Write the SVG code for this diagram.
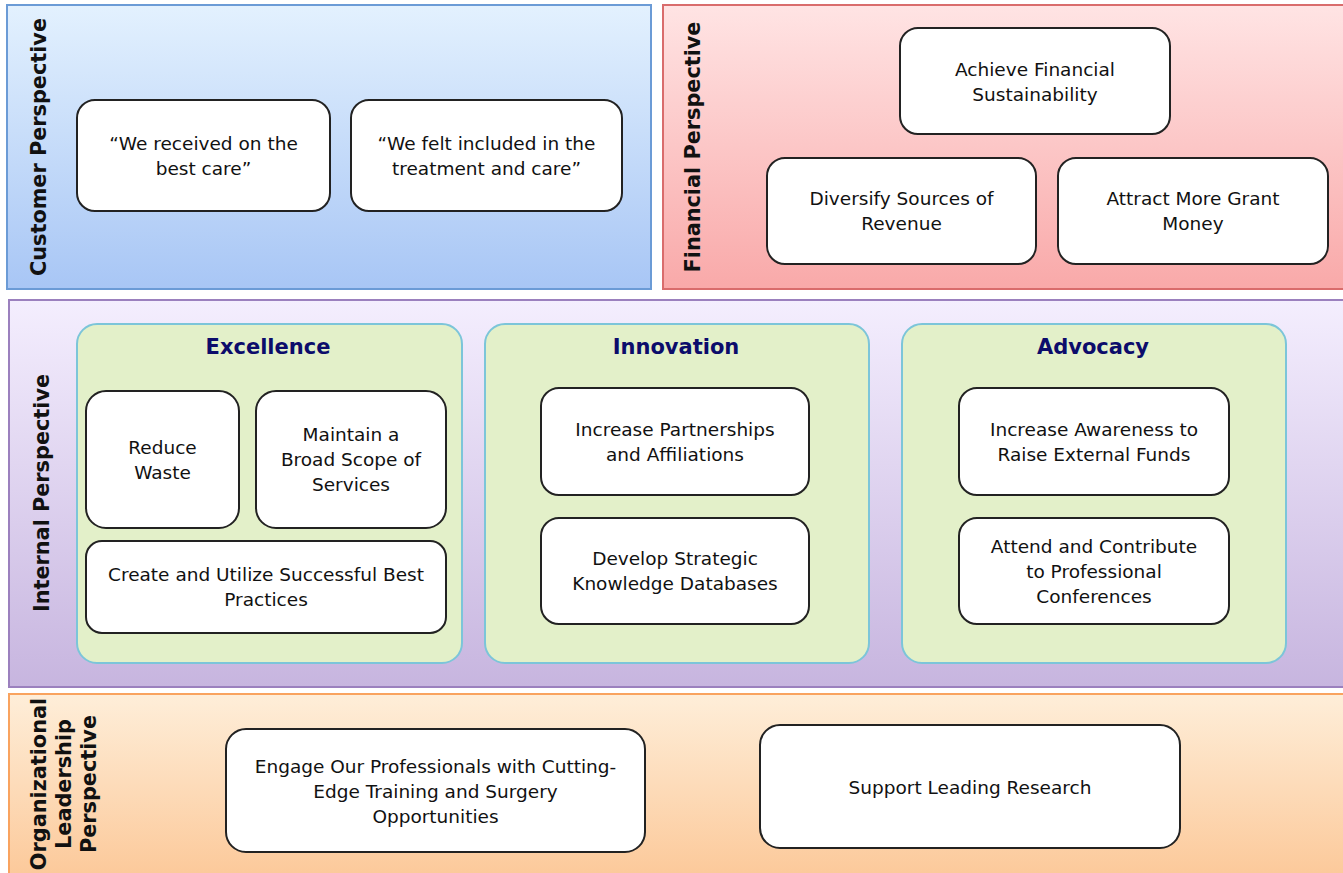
<svg xmlns="http://www.w3.org/2000/svg" width="1343" height="873" viewBox="0 0 1343 873">
<defs>
<linearGradient id="gCust" x1="0" y1="0" x2="0" y2="1"><stop offset="0" stop-color="#e3f1fe"/><stop offset="1" stop-color="#a8c6f5"/></linearGradient>
<linearGradient id="gFin" x1="0" y1="0" x2="0" y2="1"><stop offset="0" stop-color="#ffe4e4"/><stop offset="1" stop-color="#f9a9a9"/></linearGradient>
<linearGradient id="gInt" x1="0" y1="0" x2="0" y2="1"><stop offset="0" stop-color="#f4eefe"/><stop offset="1" stop-color="#c7b5df"/></linearGradient>
<linearGradient id="gOrg" x1="0" y1="0" x2="0" y2="1"><stop offset="0" stop-color="#feeed9"/><stop offset="1" stop-color="#fcc99a"/></linearGradient>
<style>
.node{fill:#ffffff;stroke:#222222;stroke-width:2}
.cont{fill:#e3f0c9;stroke:#7cc5d9;stroke-width:2}
.txt{font-family:"DejaVu Sans","Liberation Sans",sans-serif;font-size:18.5px;fill:#111111;text-anchor:middle}
.title{font-family:"DejaVu Sans","Liberation Sans",sans-serif;font-weight:bold;font-size:21px;fill:#0c0c6b;text-anchor:middle}
.vlab{font-family:"DejaVu Sans","Liberation Sans",sans-serif;font-weight:bold;font-size:20.8px;fill:#111111;text-anchor:middle}
</style>
</defs>
<g id="panels">
<rect id="customer-panel" x="7" y="5" width="644" height="284" fill="url(#gCust)" stroke="#6b9bd6" stroke-width="2"/>
<rect id="financial-panel" x="663" y="5" width="682" height="284" fill="url(#gFin)" stroke="#d96c6c" stroke-width="2"/>
<rect id="internal-panel" x="9" y="300" width="1336" height="387" fill="url(#gInt)" stroke="#9b80be" stroke-width="2"/>
<rect id="org-panel" x="9" y="694" width="1336" height="182" fill="url(#gOrg)" stroke="#f9a35f" stroke-width="2"/>
</g>
<g id="panel-labels">
<text class="vlab" transform="translate(46,147) rotate(-90)">Customer Perspective</text>
<text class="vlab" transform="translate(700,147) rotate(-90)">Financial Perspective</text>
<text class="vlab" transform="translate(49,493) rotate(-90)">Internal Perspective</text>
<text class="vlab" transform="translate(46,784) rotate(-90)">Organizational</text>
<text class="vlab" transform="translate(71,784) rotate(-90)">Leadership</text>
<text class="vlab" transform="translate(96,784) rotate(-90)">Perspective</text>
</g>
<g id="connectors"></g>
<g id="n-cust1"><rect class="node" x="77" y="100" width="253" height="111" rx="18"/><text class="txt" x="203.5" y="150">“We received on the</text><text class="txt" x="203.5" y="175">best care”</text></g>
<g id="n-cust2"><rect class="node" x="351" y="100" width="271" height="111" rx="18"/><text class="txt" x="486.5" y="150">“We felt included in the</text><text class="txt" x="486.5" y="175">treatment and care”</text></g>
<g id="n-achieve"><rect class="node" x="900" y="28" width="270" height="106" rx="18"/><text class="txt" x="1035" y="76">Achieve Financial</text><text class="txt" x="1035" y="101">Sustainability</text></g>
<g id="n-diversify"><rect class="node" x="767" y="158" width="269" height="106" rx="18"/><text class="txt" x="901.5" y="205">Diversify Sources of</text><text class="txt" x="901.5" y="230">Revenue</text></g>
<g id="n-attract"><rect class="node" x="1058" y="158" width="270" height="106" rx="18"/><text class="txt" x="1193" y="205">Attract More Grant</text><text class="txt" x="1193" y="230">Money</text></g>
<g id="c-excellence"><rect class="cont" x="77" y="324" width="385" height="339" rx="20"/><text class="title" x="268" y="354">Excellence</text></g>
<g id="c-innovation"><rect class="cont" x="485" y="324" width="384" height="339" rx="20"/><text class="title" x="676" y="354">Innovation</text></g>
<g id="c-advocacy"><rect class="cont" x="902" y="324" width="384" height="339" rx="20"/><text class="title" x="1093" y="354">Advocacy</text></g>
<g id="n-reduce"><rect class="node" x="86" y="391" width="153" height="137" rx="20"/><text class="txt" x="162.5" y="454">Reduce</text><text class="txt" x="162.5" y="479">Waste</text></g>
<g id="n-maintain"><rect class="node" x="256" y="391" width="190" height="137" rx="20"/><text class="txt" x="351" y="441">Maintain a</text><text class="txt" x="351" y="466">Broad Scope of</text><text class="txt" x="351" y="491">Services</text></g>
<g id="n-create"><rect class="node" x="86" y="541" width="360" height="92" rx="16"/><text class="txt" x="266" y="581">Create and Utilize Successful Best</text><text class="txt" x="266" y="606">Practices</text></g>
<g id="n-partner"><rect class="node" x="541" y="388" width="268" height="107" rx="18"/><text class="txt" x="675" y="436">Increase Partnerships</text><text class="txt" x="675" y="461">and Affiliations</text></g>
<g id="n-develop"><rect class="node" x="541" y="518" width="268" height="106" rx="18"/><text class="txt" x="675" y="565">Develop Strategic</text><text class="txt" x="675" y="590">Knowledge Databases</text></g>
<g id="n-awareness"><rect class="node" x="959" y="388" width="270" height="107" rx="18"/><text class="txt" x="1094" y="436">Increase Awareness to</text><text class="txt" x="1094" y="461">Raise External Funds</text></g>
<g id="n-attend"><rect class="node" x="959" y="518" width="270" height="106" rx="18"/><text class="txt" x="1094" y="553">Attend and Contribute</text><text class="txt" x="1094" y="578">to Professional</text><text class="txt" x="1094" y="603">Conferences</text></g>
<g id="n-engage"><rect class="node" x="226" y="729" width="419" height="123" rx="20"/><text class="txt" x="435.5" y="773">Engage Our Professionals with Cutting-</text><text class="txt" x="435.5" y="798">Edge Training and Surgery</text><text class="txt" x="435.5" y="823">Opportunities</text></g>
<g id="n-support"><rect class="node" x="760" y="725" width="420" height="123" rx="20"/><text class="txt" x="970" y="794">Support Leading Research</text></g>
</svg>
